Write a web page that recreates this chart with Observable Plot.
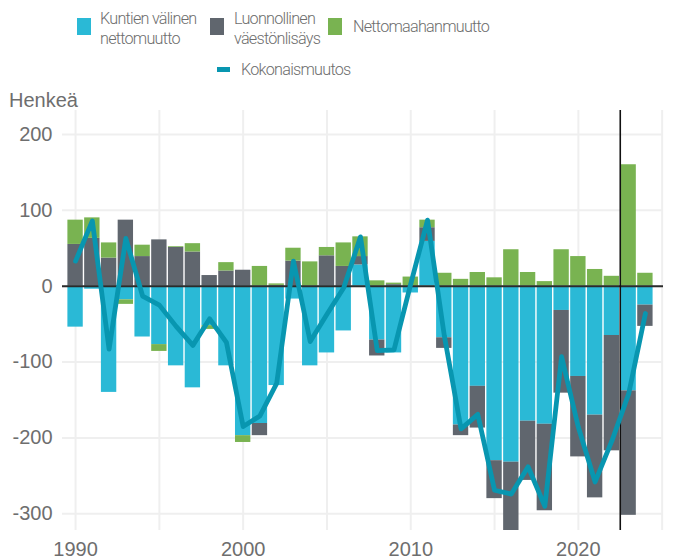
<!DOCTYPE html>
<html>
<head>
<meta charset="utf-8">
<script src="https://cdn.jsdelivr.net/npm/d3@7"></script>
<script src="https://cdn.jsdelivr.net/npm/@observablehq/plot@0.6"></script>
<style>
  html, body { margin: 0; padding: 0; background: #fff; }
  #wrap { position: relative; width: 674px; height: 559px; overflow: hidden; font-family: "Roboto", "Liberation Sans", sans-serif; }
  #chart { position: absolute; left: 0; top: 90px; }
  .sw { position: absolute; width: 14px; height: 17px; }
  .lg { position: absolute; color: #6e6e6e; font-size: 16.2px; font-weight: 300; letter-spacing: -0.75px; line-height: 20px; white-space: nowrap; }
  #ylab { position: absolute; left: 9px; top: 89px; color: #6e6e6e; font-family: "Liberation Sans", sans-serif; font-size: 20px; }
</style>
</head>
<body>
<div id="wrap">
  <div class="sw" style="left:77px;top:18px;background:#2ab9d6"></div>
  <div class="lg" style="left:100px;top:9px">Kuntien välinen<br>nettomuutto</div>
  <div class="sw" style="left:210px;top:18px;background:#60666e"></div>
  <div class="lg" style="left:234px;top:9px">Luonnollinen<br>väestönlisäys</div>
  <div class="sw" style="left:328px;top:18px;background:#79b351"></div>
  <div class="lg" style="left:353px;top:17px">Nettomaahanmuutto</div>
  <div style="position:absolute;left:217px;top:67px;width:13px;height:5px;background:#0896b0"></div>
  <div class="lg" style="left:241px;top:60px">Kokonaismuutos</div>
  <div id="ylab">Henkeä</div>
  <div id="chart"></div>
</div>
<script>
const years = d3.range(1990, 2025);
const seriesNames = ["Kuntien välinen nettomuutto", "Luonnollinen väestönlisäys", "Nettomaahanmuutto"];
const seriesColors = ["#2ab9d6", "#60666e", "#79b351"];
const kuntienValinen = [-54, -4, -140, -18, -67, -77, -105, -134, -52, -105, -197, -181, -131, -17, -105, -88, -59, 28, -71, -88, -9, 59, -68, -183, -132, -230, -232, -178, -182, -32, -119, -170, -65, -138, -25];
const luonnollinen = [55, 63, 37, 87, 39, 61, 51, 45, 14, 20, 21, -16, 1, 33, 0, 40, 26, 11, -21, 2, 0, 18, -14, -14, -55, -50, -90, -78, -114, -109, -106, -109, -152, -164, -28];
const nettomaahanmuutto = [32, 27, 20, -6, 15, -9, 1, 11, -5, 11, -9, 26, 2, 17, 32, 11, 31, 26, 7, 2, 12, 10, 17, 9, 18, 11, 48, 18, 6, 48, 39, 22, 13, 160, 17];
const kokonaismuutos = [33, 86, -83, 63, -13, -25, -53, -78, -43, -74, -185, -171, -128, 33, -73, -37, -2, 65, -85, -84, 3, 87, -65, -188, -169, -269, -274, -238, -290, -93, -186, -258, -204, -142, -36];
const yTicks = [-300, -200, -100, 0, 100, 200];
const xTicks = [1990, 2000, 2010, 2020];
const xGrid = [1990, 1995, 2000, 2005, 2010, 2015, 2020, 2025];
const markerYear = [2022.5];

const seriesValues = [kuntienValinen, luonnollinen, nettomaahanmuutto];
const bars = [];
years.forEach((yr, i) => {
  seriesNames.forEach((s, k) => bars.push({year: yr, series: s, value: seriesValues[k][i]}));
});
const totals = years.map((yr, i) => ({year: yr, value: kokonaismuutos[i]}));

const chart = Plot.plot({
  width: 674,
  height: 469,
  marginTop: 20,
  marginBottom: 29,
  marginLeft: 62,
  marginRight: 11,
  style: {fontFamily: "'Liberation Sans', sans-serif", fontSize: "20px", color: "#6e6e6e", background: "transparent"},
  x: {domain: [1989.22, 2025.08], axis: null},
  y: {domain: [-322, 231.5], axis: null},
  color: {domain: seriesNames, range: seriesColors},
  marks: [
    Plot.gridY(yTicks, {stroke: "#efefef", strokeOpacity: 1, strokeWidth: 2}),
    Plot.gridX(xGrid, {stroke: "#efefef", strokeOpacity: 1, strokeWidth: 2}),
    Plot.rectY(bars, {x1: d => d.year - 0.5, x2: d => d.year + 0.5, y: "value", fill: "series", insetLeft: 0.7, insetRight: 0.7}),
    Plot.ruleY([0], {stroke: "#2b2b2b", strokeWidth: 2}),
    Plot.ruleX(markerYear, {stroke: "#111", strokeWidth: 1.6}),
    Plot.line(totals, {x: "year", y: "value", stroke: "#0896b0", strokeWidth: 4.8}),
    Plot.axisY(yTicks, {tickSize: 0, tickPadding: 10, tickFormat: d => String(d), fontSize: 20, fill: "#6e6e6e", label: null}),
    Plot.axisX(xTicks, {tickSize: 0, tickPadding: 11, tickFormat: d => String(d), fontSize: 20, fill: "#6e6e6e", label: null})
  ]
});
document.getElementById("chart").appendChild(chart);
</script>
</body>
</html>
